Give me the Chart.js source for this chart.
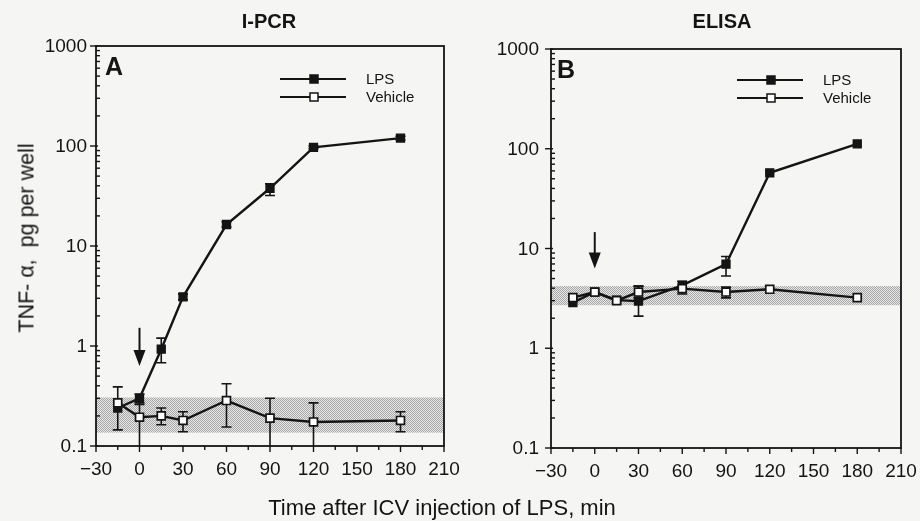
<!DOCTYPE html>
<html>
<head>
<meta charset="utf-8">
<script src="https://cdn.jsdelivr.net/npm/chart.js@4.4.1/dist/chart.umd.min.js"></script>
<style>
  html, body { margin: 0; padding: 0; background: #f5f5f4; }
  #wrap { position: relative; width: 920px; height: 521px; overflow: hidden; font-family: "Liberation Sans", Arial, sans-serif; color: #141414; }
  canvas { position: absolute; top: 0; }
  #cA { left: 0; }
  #cB { left: 460px; }
  .title { position: absolute; top: 10px; font-weight: bold; font-size: 20px; transform: translateX(-50%); white-space: nowrap; }
  #ylab { position: absolute; left: 27px; top: 238px; font-size: 21.5px; transform: translate(-50%, -50%) rotate(-90deg); white-space: nowrap; }
  #xlab { position: absolute; left: 442px; top: 495px; font-size: 22px; transform: translateX(-50%); white-space: nowrap; }
</style>
</head>
<body>
<div id="wrap">
  <canvas id="cA" width="460" height="521"></canvas>
  <canvas id="cB" width="460" height="521"></canvas>
  <div class="title" style="left:269px">I-PCR</div>
  <div class="title" style="left:722px">ELISA</div>
  <div id="ylab">TNF- α,&nbsp; pg per well</div>
  <div id="xlab">Time after ICV injection of LPS, min</div>
</div>
<script>
// ---- data ----
const times = [-15, 0, 15, 30, 60, 90, 120, 180];

const lpsA    = [0.24, 0.30, 0.93, 3.1, 16.4, 37.8, 97, 120];
const lpsAHi  = [null, 0.33, 1.2, 3.3, 17.5, 42, 100, 125];
const lpsALo  = [null, 0.26, 0.68, 2.9, 15.5, 32, 94, 115];
const vehA    = [0.27, 0.194, 0.20, 0.18, 0.285, 0.19, 0.174, 0.18];
const vehAHi  = [0.39, 0.27, 0.24, 0.22, 0.42, 0.30, 0.27, 0.22];
const vehALo  = [0.145, 0.1, 0.163, 0.139, 0.155, 0.1, 0.1, 0.139];
const bandA   = [0.136, 0.306];
const arrowA  = [1.52, 0.63];   // arrow at t=0: from value, to value

const lpsB    = [2.87, 3.66, 3.04, 2.97, 4.27, 6.96, 57.4, 112];
const lpsBHi  = [null, null, null, 4.2, 4.7, 8.3, null, null];
const lpsBLo  = [null, null, null, 2.1, 3.5, 5.3, null, null];
const vehB    = [3.22, 3.66, 3.0, 3.66, 3.96, 3.66, 3.9, 3.22];
const vehBHi  = [null, null, null, 4.2, null, 4.1, null, null];
const vehBLo  = [null, null, null, 3.2, null, 3.2, null, null];
const bandB   = [2.7, 4.2];
const arrowB  = [14.6, 6.3];

const yMajor = [0.1, 1, 10, 100, 1000];
const yMajorLabels = ["0.1", "1", "10", "100", "1000"];
const xMajor = [-30, 0, 30, 60, 90, 120, 150, 180, 210];
const xMajorLabels = ["\u221230", "0", "30", "60", "90", "120", "150", "180", "210"];
const xMinor = [-15, 15, 45, 75, 105, 135, 165, 195];

const INK = "#141414";
const FONT = '"Liberation Sans", Arial, sans-serif';

function makePattern() {
  const p = document.createElement("canvas");
  p.width = 2; p.height = 2;
  const c = p.getContext("2d");
  c.fillStyle = "#e6e6e6"; c.fillRect(0, 0, 2, 2);
  c.fillStyle = "#a8a8a8"; c.fillRect(0, 0, 1, 1); c.fillRect(1, 1, 1, 1);
  return p;
}

function makePanel(id, cfg) {
  const ctx = document.getElementById(id).getContext("2d");
  const pattern = ctx.createPattern(makePattern(), "repeat");

  const decor = {
    id: "decor",
    beforeDatasetsDraw(chart) {
      const { ctx, chartArea: a, scales: { x, y } } = chart;
      ctx.save();
      const y1 = y.getPixelForValue(cfg.band[1]), y0 = y.getPixelForValue(cfg.band[0]);
      ctx.fillStyle = pattern;
      ctx.fillRect(a.left, y1, a.right - a.left, y0 - y1);
      ctx.strokeStyle = INK; ctx.lineWidth = 1.6;
      const drawErr = (lo, hi) => {
        times.forEach((t, i) => {
          if (lo[i] == null && hi[i] == null) return;
          const px = x.getPixelForValue(t);
          const pLo = y.getPixelForValue(lo[i]), pHi = y.getPixelForValue(hi[i]);
          ctx.beginPath();
          ctx.moveTo(px, pLo); ctx.lineTo(px, pHi);
          if (lo[i] > 0.1001) { ctx.moveTo(px - 5, pLo); ctx.lineTo(px + 5, pLo); }
          ctx.moveTo(px - 5, pHi); ctx.lineTo(px + 5, pHi);
          ctx.stroke();
        });
      };
      drawErr(cfg.lpsLo, cfg.lpsHi);
      drawErr(cfg.vehLo, cfg.vehHi);
      ctx.restore();
    },
    afterDraw(chart) {
      const { ctx, chartArea: a, scales: { x, y } } = chart;
      ctx.save();
      ctx.strokeStyle = INK; ctx.fillStyle = INK;
      ctx.lineWidth = 1.8;
      ctx.strokeRect(a.left, a.top, a.right - a.left, a.bottom - a.top);
      ctx.lineWidth = 1.4;
      ctx.font = "19px " + FONT;
      ctx.textAlign = "right"; ctx.textBaseline = "middle";
      yMajor.forEach((v, i) => {
        const py = y.getPixelForValue(v);
        ctx.beginPath(); ctx.moveTo(a.left - 6, py); ctx.lineTo(a.left + 2, py); ctx.stroke();
        ctx.fillText(yMajorLabels[i], a.left - cfg.labelGap, py + 1);
        if (i < yMajor.length - 1) {
          for (let k = 2; k <= 9; k++) {
            const pm = y.getPixelForValue(v * k);
            ctx.beginPath(); ctx.moveTo(a.left, pm); ctx.lineTo(a.left + 4, pm); ctx.stroke();
          }
        }
      });
      ctx.textAlign = "center"; ctx.textBaseline = "top";
      xMajor.forEach((v, i) => {
        const px = x.getPixelForValue(v);
        ctx.beginPath(); ctx.moveTo(px, a.bottom); ctx.lineTo(px, a.bottom + 6); ctx.stroke();
        ctx.fillText(xMajorLabels[i], px, a.bottom + 14);
      });
      xMinor.forEach(v => {
        const px = x.getPixelForValue(v);
        ctx.beginPath(); ctx.moveTo(px, a.bottom); ctx.lineTo(px, a.bottom + 4); ctx.stroke();
      });
      const ax = x.getPixelForValue(0);
      const aTop = y.getPixelForValue(cfg.arrow[0]), aTip = y.getPixelForValue(cfg.arrow[1]);
      ctx.lineWidth = 2;
      ctx.beginPath(); ctx.moveTo(ax, aTop); ctx.lineTo(ax, aTip - 12); ctx.stroke();
      ctx.beginPath(); ctx.moveTo(ax - 6, aTip - 16); ctx.lineTo(ax + 6, aTip - 16); ctx.lineTo(ax, aTip); ctx.closePath(); ctx.fill();
      ctx.font = "bold 25px " + FONT;
      ctx.textAlign = "left"; ctx.textBaseline = "alphabetic";
      ctx.fillText(cfg.letter, a.left + cfg.letterDx, a.top + 29);
      const items = [
        { label: "LPS", fill: INK, dy: 33 },
        { label: "Vehicle", fill: "#ffffff", dy: 51 }
      ];
      ctx.font = "15px " + FONT;
      ctx.textBaseline = "middle";
      items.forEach(it => {
        const ly = a.top + it.dy + cfg.legendDy;
        ctx.lineWidth = 2.2;
        ctx.beginPath(); ctx.moveTo(a.right - 164, ly); ctx.lineTo(a.right - 98, ly); ctx.stroke();
        const mx = a.right - 130;
        ctx.fillStyle = it.fill; ctx.fillRect(mx - 4, ly - 4, 8, 8);
        ctx.lineWidth = 1.5; ctx.strokeRect(mx - 4, ly - 4, 8, 8);
        ctx.fillStyle = INK;
        ctx.fillText(it.label, a.right - 78, ly + 1);
      });
      ctx.restore();
    }
  };

  return new Chart(ctx, {
    type: "line",
    data: {
      labels: times,
      datasets: [
        {
          label: "LPS",
          data: times.map((t, i) => ({ x: t, y: cfg.lps[i] })),
          borderColor: INK, backgroundColor: INK,
          borderWidth: 2.4, pointStyle: "rect", pointRadius: 5.6,
          pointBorderWidth: 1.4, pointBorderColor: INK, pointBackgroundColor: INK,
          tension: 0, order: 2
        },
        {
          label: "Vehicle",
          data: times.map((t, i) => ({ x: t, y: cfg.veh[i] })),
          borderColor: INK, backgroundColor: "#ffffff",
          borderWidth: 2.4, pointStyle: "rect", pointRadius: 5.6,
          pointBorderWidth: 1.7, pointBorderColor: INK, pointBackgroundColor: "#ffffff",
          tension: 0, order: 1
        }
      ]
    },
    options: {
      responsive: false,
      animation: false,
      devicePixelRatio: 1,
      layout: { padding: cfg.padding },
      plugins: { legend: { display: false }, tooltip: { enabled: false } },
      scales: {
        x: { type: "linear", min: -30, max: 210, display: false },
        y: { type: "logarithmic", min: 0.1, max: 1000, display: false }
      }
    },
    plugins: [decor]
  });
}

makePanel("cA", {
  lps: lpsA, lpsHi: lpsAHi, lpsLo: lpsALo,
  veh: vehA, vehHi: vehAHi, vehLo: vehALo,
  band: bandA, arrow: arrowA, letter: "A", letterDx: 9, legendDy: 0, labelGap: 9,
  padding: { left: 96, top: 46, right: 16, bottom: 75 }
});
makePanel("cB", {
  lps: lpsB, lpsHi: lpsBHi, lpsLo: lpsBLo,
  veh: vehB, vehHi: vehBHi, vehLo: vehBLo,
  band: bandB, arrow: arrowB, letter: "B", letterDx: 6, legendDy: -2, labelGap: 12,
  padding: { left: 91, top: 49, right: 19, bottom: 73 }
});
</script>
</body>
</html>
